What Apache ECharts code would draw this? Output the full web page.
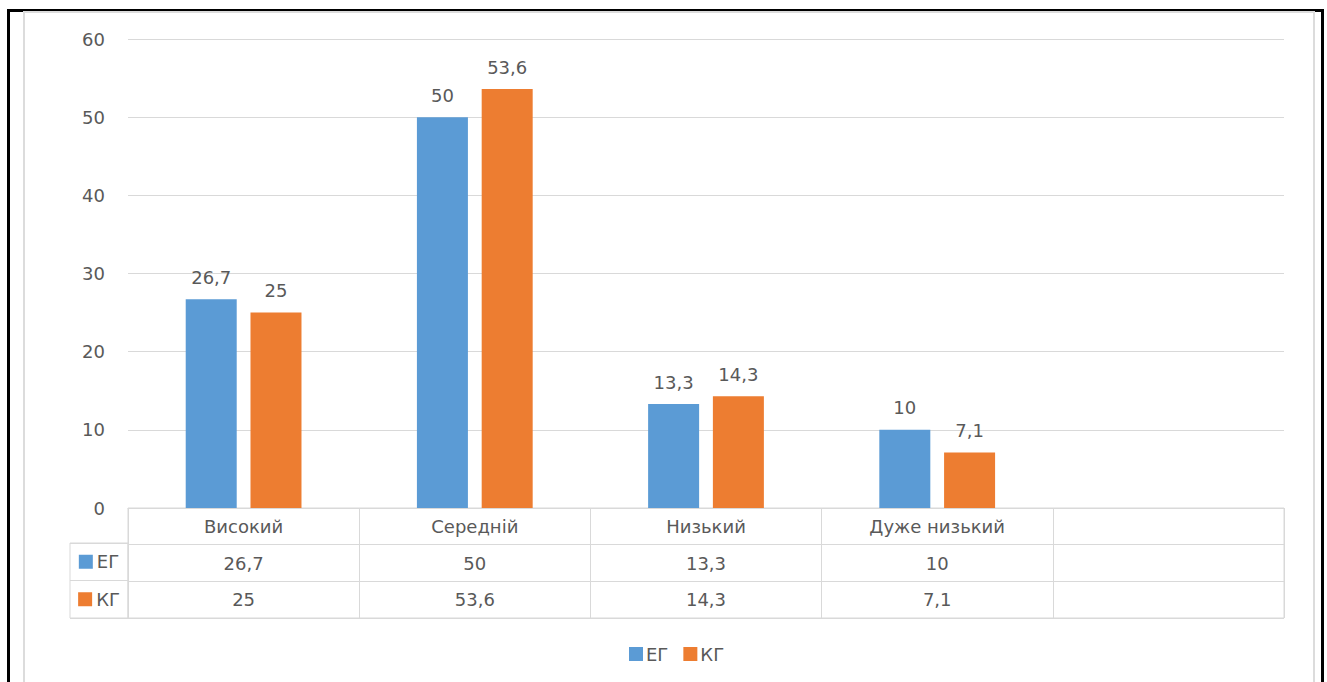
<!DOCTYPE html>
<html>
<head>
<meta charset="utf-8">
<title>ЕГ / КГ</title>
<script src="https://cdn.jsdelivr.net/npm/echarts@6/dist/echarts.min.js"></script>
<style>
  html, body { margin: 0; padding: 0; background: #fff; }
  #chart { position: absolute; left: 0; top: 0; width: 1327px; height: 682px; }
  .frame { position: absolute; pointer-events: none; box-sizing: border-box; }
  #outer { left: 7px; top: 9px; width: 1317px; height: 700px; border: 3px solid #000; }
  #inner { left: 23px; top: 11px; width: 1292px; height: 700px; border: 2px solid #dcdcdc; }
</style>
</head>
<body>
<div id="chart"></div>
<div class="frame" id="outer"></div>
<div class="frame" id="inner"></div>
<script>
// Levels of the measured indicator and the share (%) of each group
const categories = ['Високий', 'Середній', 'Низький', 'Дуже низький'];
const seriesNames = ['ЕГ', 'КГ'];
const egValues = [26.7, 50, 13.3, 10];
const kgValues = [25, 53.6, 14.3, 7.1];
const yTicks = { min: 0, max: 60, interval: 10 };

const colors = ['#5B9BD5', '#ED7D31'];
const textColor = '#595959';
const lineColor = '#d9d9d9';
const font = 'DejaVu Sans';
const fontSize = 18;

// the table and the axis have one extra, empty column at the right
const axisCats = categories.concat(['']);
const fmt = v => String(v).replace('.', ',');

const groups = [egValues, kgValues];

// cells of the data table: header row, then one row per group
const tableCells = [];
categories.forEach((c, i) => tableCells.push({ value: [i, 0], text: c }));
groups.forEach((vals, r) => vals.forEach((v, i) => tableCells.push({ value: [i, r + 1], text: fmt(v) })));

const rowKeys = seriesNames.map((n, r) => ({ value: [0, r], text: n, colorIdx: r }));

const chart = echarts.init(document.getElementById('chart'), null, { renderer: 'svg' });

chart.setOption({
  animation: false,
  textStyle: { fontFamily: font, color: textColor },
  grid: [
    { left: 128, right: 43, top: 39, bottom: 174 },
    { left: 128, right: 43, top: 508, height: 110, show: true, borderColor: lineColor, borderWidth: 1 },
    { left: 70, width: 58, top: 543, height: 75, show: true, borderColor: lineColor, borderWidth: 1 }
  ],
  legend: {
    data: seriesNames,
    left: 624,
    top: 640,
    icon: 'rect',
    itemWidth: 14,
    itemHeight: 14,
    itemGap: 15,
    textStyle: { fontFamily: font, fontSize: fontSize, color: textColor, padding: [0, 0, 0, -2] }
  },
  xAxis: [
    {
      gridIndex: 0, type: 'category', data: axisCats,
      axisLine: { show: true, lineStyle: { color: lineColor } },
      axisTick: { show: false }, axisLabel: { show: false }
    },
    {
      gridIndex: 1, type: 'category', data: axisCats,
      axisLine: { show: false }, axisTick: { show: false }, axisLabel: { show: false },
      splitLine: { show: true, lineStyle: { color: lineColor } }
    },
    {
      gridIndex: 2, type: 'category', data: [''],
      axisLine: { show: false }, axisTick: { show: false }, axisLabel: { show: false }
    }
  ],
  yAxis: [
    {
      gridIndex: 0, type: 'value', min: yTicks.min, max: yTicks.max, interval: yTicks.interval,
      axisLine: { show: false }, axisTick: { show: false },
      axisLabel: { color: textColor, fontFamily: font, fontSize: fontSize, margin: 23 },
      splitLine: { lineStyle: { color: lineColor } }
    },
    {
      gridIndex: 1, type: 'category', data: ['', ...seriesNames], inverse: true,
      axisLine: { show: false }, axisTick: { show: false }, axisLabel: { show: false },
      splitLine: { show: true, lineStyle: { color: lineColor } }
    },
    {
      gridIndex: 2, type: 'category', data: seriesNames, inverse: true,
      axisLine: { show: false }, axisTick: { show: false }, axisLabel: { show: false },
      splitLine: { show: true, lineStyle: { color: lineColor } }
    }
  ],
  series: [
    ...seriesNames.map((name, k) => ({
      name: name,
      type: 'bar',
      xAxisIndex: 0, yAxisIndex: 0,
      data: groups[k],
      barWidth: 51,
      barGap: '27%',
      itemStyle: { color: colors[k] },
      label: {
        show: true, position: 'top', distance: 13,
        fontFamily: font, fontSize: fontSize, color: textColor,
        formatter: p => fmt(p.value)
      }
    })),
    {
      type: 'scatter',
      xAxisIndex: 1, yAxisIndex: 1,
      symbolSize: 0,
      silent: true,
      itemStyle: { opacity: 1 },
      data: tableCells,
      label: {
        show: true, position: 'inside',
        fontFamily: font, fontSize: fontSize, color: textColor,
        formatter: p => p.data.text
      }
    },
    {
      type: 'scatter',
      xAxisIndex: 2, yAxisIndex: 2,
      symbolSize: 0,
      silent: true,
      itemStyle: { opacity: 1 },
      data: rowKeys,
      label: {
        show: true, position: 'inside',
        formatter: p => '{k' + p.data.colorIdx + '|}{t|' + p.data.text + '}',
        rich: {
          k0: { backgroundColor: colors[0], width: 14, height: 14 },
          k1: { backgroundColor: colors[1], width: 14, height: 14 },
          t: { fontFamily: font, fontSize: fontSize, color: textColor, padding: [0, 0, 0, 4] }
        }
      }
    }
  ]
});
</script>
</body>
</html>
